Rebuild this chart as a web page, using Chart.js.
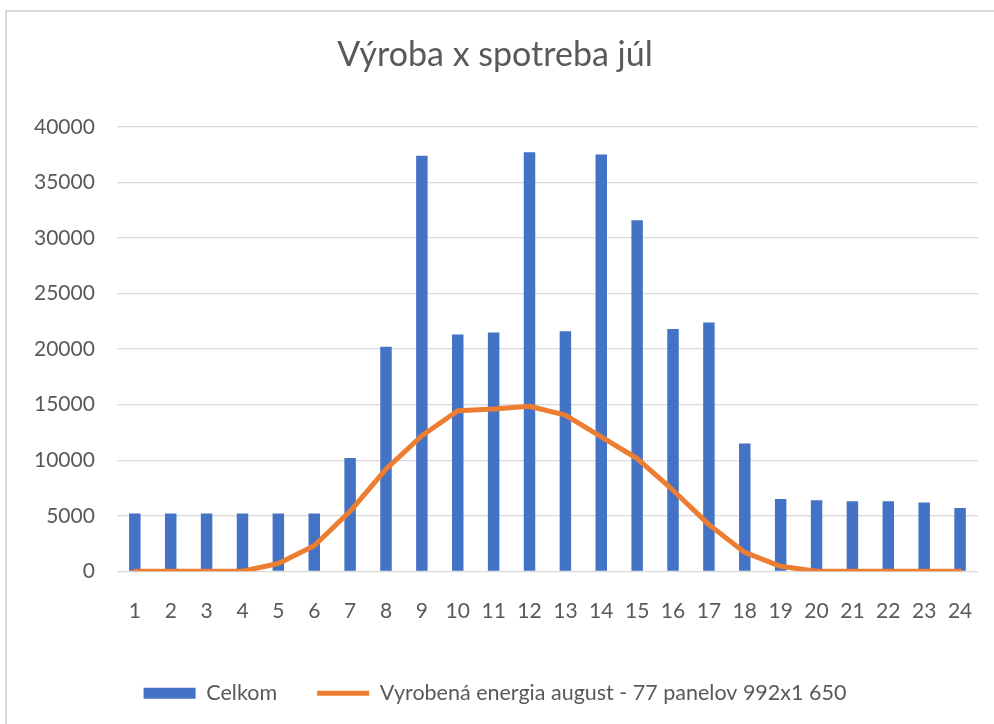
<!DOCTYPE html>
<html>
<head>
<meta charset="utf-8">
<script src="https://cdn.jsdelivr.net/npm/chart.js@4/dist/chart.umd.min.js"></script>
<style>
  html, body { margin: 0; padding: 0; background: #fff; }
  #wrap { position: relative; width: 994px; height: 724px; }
  #frame {
    position: absolute; left: 5px; top: 10px; right: 0; bottom: 0;
    border-left: 2px solid #d9d9d9; border-top: 2px solid #d9d9d9;
  }
  #chart { position: absolute; left: 0; top: 0; }
</style>
</head>
<body>
<div id="wrap">
  <div id="frame"></div>
  <canvas id="chart" width="994" height="724"></canvas>
</div>
<script>
// hodiny
const hours = ['1','2','3','4','5','6','7','8','9','10','11','12','13','14','15','16','17','18','19','20','21','22','23','24'];

// spotreba celkom
const celkom = [5200, 5200, 5200, 5200, 5200, 5200, 10200, 20200, 37400, 21300, 21500, 37700,
                21600, 37500, 31600, 21800, 22400, 11500, 6500, 6400, 6300, 6300, 6200, 5700];

// vyrobena energia
const vyroba = [0, 0, 0, 0, 700, 2300, 5400, 9200, 12200, 14450, 14600, 14850,
                14050, 12100, 10150, 7300, 4200, 1700, 450, 0, 0, 0, 0, 0];

const yTicks = [0, 5000, 10000, 15000, 20000, 25000, 30000, 35000, 40000];

const textColor = '#595959';
const fontFamily = 'Lato, "Open Sans", sans-serif';

const ctx = document.getElementById('chart').getContext('2d');
new Chart(ctx, {
    type: 'bar',
    data: {
        labels: hours,
        datasets: [
            {
                type: 'line',
                label: 'Vyrobená energia august - 77 panelov 992x1 650',
                data: vyroba,
                borderColor: '#ED7D31',
                backgroundColor: '#ED7D31',
                borderWidth: 5,
                pointRadius: 0,
                pointStyle: 'line',
                tension: 0,
                borderJoinStyle: 'round',
                borderCapStyle: 'round',
                fill: false
            },
            {
                label: 'Celkom',
                data: celkom,
                backgroundColor: '#4472C4',
                borderWidth: 0,
                pointStyle: 'rect',
                barPercentage: 0.32,
                categoryPercentage: 1
            }
        ]
    },
    options: {
        responsive: false,
        animation: false,
        layout: { padding: { left: 12, right: 16, top: 0, bottom: 10 } },
        scales: {
            x: {
                grid: { display: false },
                border: { display: false },
                ticks: { color: textColor, font: { family: fontFamily, size: 21 }, padding: 19, maxRotation: 0 }
            },
            y: {
                min: 0,
                max: 40000,
                afterBuildTicks: axis => { axis.ticks = yTicks.map(v => ({ value: v })); },
                grid: { color: '#d9d9d9', lineWidth: 1.3, drawTicks: false },
                border: { display: false },
                ticks: {
                    color: textColor,
                    font: { family: fontFamily, size: 21 },
                    padding: 22,
                    callback: v => String(v)
                }
            }
        },
        plugins: {
            title: {
                display: true,
                text: 'Výroba x spotreba júl',
                color: textColor,
                font: { family: fontFamily, size: 34, weight: 'normal' },
                padding: { top: 35, bottom: 51 }
            },
            legend: {
                position: 'bottom',
                reverse: true,
                labels: {
                    color: textColor,
                    font: { family: fontFamily, size: 21.5 },
                    usePointStyle: true,
                    pointStyleWidth: 52,
                    boxHeight: 11,
                    padding: 40
                }
            },
            tooltip: { enabled: false }
        }
    }
});
</script>
</body>
</html>
